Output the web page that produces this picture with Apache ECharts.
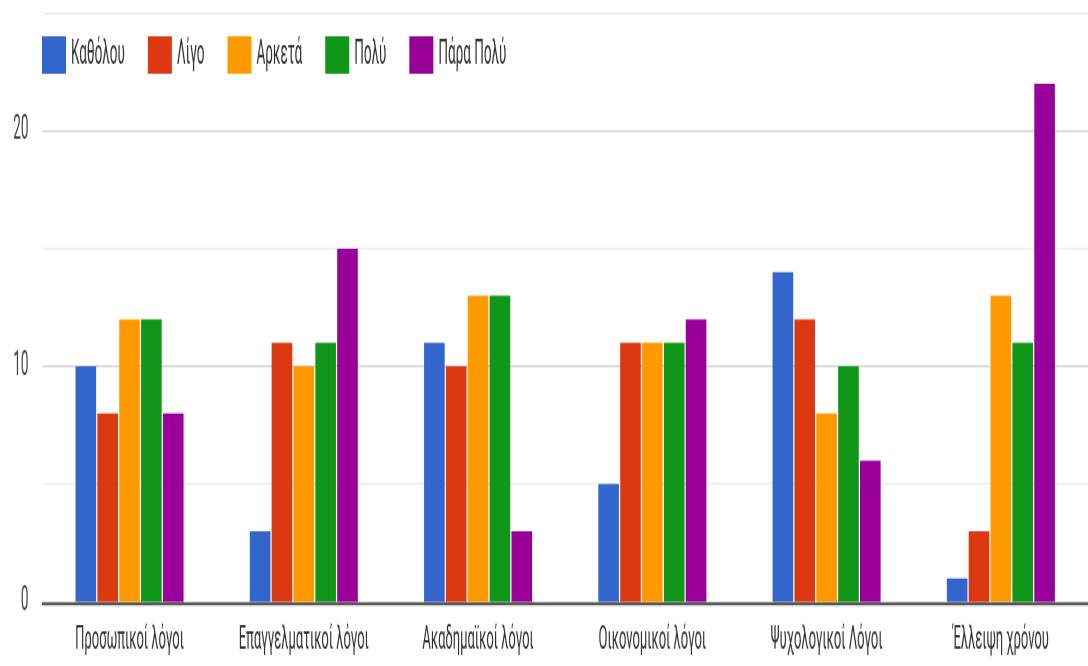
<!DOCTYPE html>
<html>
<head>
<meta charset="utf-8">
<script src="https://cdn.jsdelivr.net/npm/echarts@6/dist/echarts.min.js"></script>
<style>
  html, body { margin: 0; padding: 0; background: #fff; overflow: hidden; }
  #wrap { width: 1088px; height: 666px; overflow: hidden; position: relative; }
  /* the chart is laid out short and then stretched vertically */
  #chart { width: 1088px; height: 266.4px; transform: scaleY(2.5); transform-origin: 0 0; }
</style>
</head>
<body>
<div id="wrap"><div id="chart"></div></div>
<script>
const categories = ['Προσωπικοί λόγοι', 'Επαγγελματικοί λόγοι', 'Ακαδημαϊκοί λόγοι', 'Οικονομικοί λόγοι', 'Ψυχολογικοί Λόγοι', 'Έλλειψη χρόνου'];
const seriesNames = ['Καθόλου', 'Λίγο', 'Αρκετά', 'Πολύ', 'Πάρα Πολύ'];
const katholou = [10, 3, 11, 5, 14, 1];
const ligo     = [8, 11, 10, 11, 12, 3];
const arketa   = [12, 10, 13, 11, 8, 13];
const poly     = [12, 11, 13, 11, 10, 11];
const paraPoly = [8, 15, 3, 12, 6, 22];
const yTicks = [0, 10, 20];

const values = [katholou, ligo, arketa, poly, paraPoly];
const colors = ['#3366cc', '#dc3912', '#ff9900', '#109618', '#990099'];
const font = 'Roboto, "Noto Sans", sans-serif';

const chart = echarts.init(document.getElementById('chart'), null, { renderer: 'canvas', devicePixelRatio: 2 });

chart.setOption({
  animation: false,
  color: colors,
  legend: {
    left: 42,
    top: 14.5,
    padding: 0,
    itemWidth: 24,
    itemHeight: 15,
    itemGap: 23,
    icon: 'rect',
    textStyle: { fontFamily: font, fontSize: 13.5, color: '#333' },
    data: seriesNames
  },
  grid: { left: 42.4, right: -6, top: 5.2, bottom: 25.2, containLabel: false },
  xAxis: {
    type: 'category',
    data: categories,
    axisTick: { show: false },
    axisLine: { lineStyle: { color: '#555', width: 1.2 } },
    axisLabel: { fontFamily: font, fontSize: 13, color: '#333', margin: 9, interval: 0 }
  },
  yAxis: {
    type: 'value',
    min: 0,
    max: 25,
    interval: 5,
    axisLine: { show: false },
    axisTick: { show: false },
    axisLabel: {
      fontFamily: font, fontSize: 13.5, color: '#444', margin: 14,
      formatter: v => (yTicks.indexOf(v) >= 0 ? String(v) : '')
    },
    splitLine: { lineStyle: { color: ['#d0d0d0', '#ebebeb'], width: 0.8 } }
  },
  series: seriesNames.map((name, i) => ({
    name: name,
    type: 'bar',
    data: values[i],
    barCategoryGap: '38%',
    barGap: '6%'
  }))
});
</script>
</body>
</html>
